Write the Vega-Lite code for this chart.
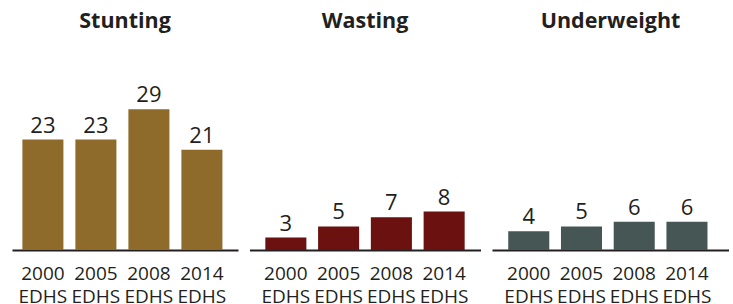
{
  "$schema": "https://vega.github.io/schema/vega-lite/v6.json",
  "padding": {"left": 12, "top": 10, "right": 0, "bottom": 0},
  "background": "white",
  "config": {
    "view": {"stroke": null},
    "font": "Open Sans",
    "concat": {"spacing": 11.5},
    "title": {"fontSize": 21.5, "fontWeight": "bold", "color": "#231F20", "anchor": "middle", "offset": 8},
    "axisX": {
      "title": null, "domainColor": "#231F20", "domainWidth": 2, "ticks": false, "labelAngle": 0,
      "labelFontSize": 19, "labelColor": "#231F20", "labelPadding": 14, "labelLineHeight": 23,
      "labelOverlap": false, "labelFont": "Open Sans", "labelExpr": "split(datum.label, ' ')"
    },
    "text": {"font": "Open Sans", "fontSize": 22, "color": "#231F20", "baseline": "alphabetic", "dy": -7}
  },
  "datasets": {
    "d": [
      {"panel": "Stunting", "year": "2000 EDHS", "value": 23.0},
      {"panel": "Stunting", "year": "2005 EDHS", "value": 23.0},
      {"panel": "Stunting", "year": "2008 EDHS", "value": 29.3},
      {"panel": "Stunting", "year": "2014 EDHS", "value": 20.9},
      {"panel": "Wasting", "year": "2000 EDHS", "value": 2.6},
      {"panel": "Wasting", "year": "2005 EDHS", "value": 4.9},
      {"panel": "Wasting", "year": "2008 EDHS", "value": 6.8},
      {"panel": "Wasting", "year": "2014 EDHS", "value": 8.0},
      {"panel": "Underweight", "year": "2000 EDHS", "value": 3.9},
      {"panel": "Underweight", "year": "2005 EDHS", "value": 4.9},
      {"panel": "Underweight", "year": "2008 EDHS", "value": 5.9},
      {"panel": "Underweight", "year": "2014 EDHS", "value": 5.9}
    ]
  },
  "hconcat": [
    {
      "width": 226, "height": 210,
      "title": "Stunting",
      "data": {"name": "d"},
      "transform": [{"filter": "datum.panel === 'Stunting'"}],
      "encoding": {
        "x": {"field": "year", "type": "nominal", "sort": null, "scale": {"paddingInner": 0.226, "paddingOuter": 0.245, "align": 0.4}},
        "y": {"field": "value", "type": "quantitative", "scale": {"domain": [0, 43.75]}, "axis": null}
      },
      "layer": [
        {"mark": {"type": "bar", "color": "#8E6B2A"}},
        {"mark": {"type": "text"}, "encoding": {"text": {"field": "value", "type": "quantitative", "format": ".0f"}}}
      ]
    },
    {
      "width": 231, "height": 210,
      "title": "Wasting",
      "data": {"name": "d"},
      "transform": [{"filter": "datum.panel === 'Wasting'"}],
      "encoding": {
        "x": {"field": "year", "type": "nominal", "sort": null, "scale": {"paddingInner": 0.222, "paddingOuter": 0.3, "align": 0.5}},
        "y": {"field": "value", "type": "quantitative", "scale": {"domain": [0, 43.75]}, "axis": null}
      },
      "layer": [
        {"mark": {"type": "bar", "color": "#6B1110"}},
        {"mark": {"type": "text"}, "encoding": {"text": {"field": "value", "type": "quantitative", "format": ".0f"}}}
      ]
    },
    {
      "width": 237, "height": 210,
      "title": "Underweight",
      "data": {"name": "d"},
      "transform": [{"filter": "datum.panel === 'Underweight'"}],
      "encoding": {
        "x": {"field": "year", "type": "nominal", "sort": null, "scale": {"paddingInner": 0.222, "paddingOuter": 0.358, "align": 0.43}},
        "y": {"field": "value", "type": "quantitative", "scale": {"domain": [0, 43.75]}, "axis": null}
      },
      "layer": [
        {"mark": {"type": "bar", "color": "#465654"}},
        {"mark": {"type": "text"}, "encoding": {"text": {"field": "value", "type": "quantitative", "format": ".0f"}}}
      ]
    }
  ]
}
